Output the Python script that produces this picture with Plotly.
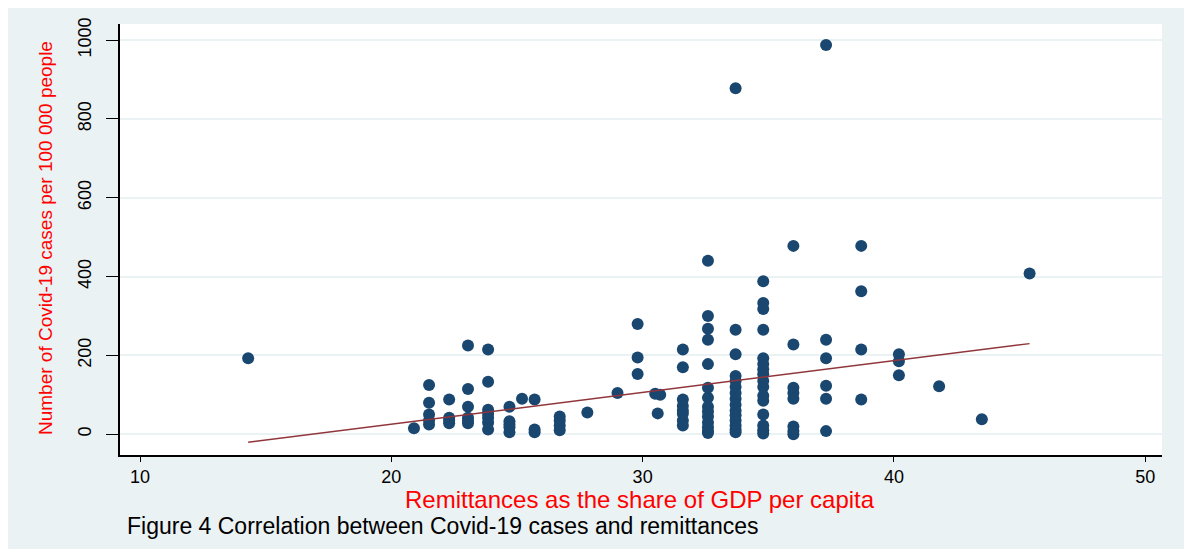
import plotly.graph_objects as go

# Remittances (% of GDP per capita) and Covid-19 cases per 100 000 people
remit = ([14.3] + [20.9] + [21.5]*5 + [22.3]*4 + [23.05]*6 + [23.85]*7 + [24.7]*5
         + [25.2] + [25.7]*3 + [26.7]*4 + [27.8] + [29.0] + [29.8]*3
         + [30.5, 30.7, 30.6] + [31.6]*8 + [32.6]*14 + [33.7]*15 + [34.8]*16
         + [36.0]*8 + [37.3]*6 + [38.7]*4 + [40.2]*3 + [41.8] + [43.5] + [45.4])
cases = ([193] + [15] + [125, 80, 50, 35, 25] + [88, 42, 35, 28]
         + [225, 115, 70, 42, 35, 28] + [215, 133, 62, 52, 42, 30, 12]
         + [70, 33, 25, 18, 5] + [90] + [88, 12, 5] + [45, 35, 22, 10]
         + [55] + [105] + [280, 195, 153] + [103, 100, 53]
         + [215, 170, 88, 72, 60, 52, 35, 22]
         + [440, 300, 268, 240, 178, 118, 93, 70, 58, 45, 30, 18, 8, 3]
         + [878, 265, 203, 148, 135, 120, 105, 90, 75, 60, 48, 35, 22, 12, 5]
         + [388, 333, 318, 265, 193, 178, 165, 152, 135, 120, 98, 85, 50, 22, 10, 2]
         + [478, 228, 118, 105, 90, 20, 8, 0] + [988, 240, 193, 123, 90, 8]
         + [478, 363, 215, 88] + [203, 185, 150] + [122] + [38] + [408])

# Linear fit line endpoints
fit_x = [14.3, 45.4]
fit_y = [-20, 230]

x_ticks = [10, 20, 30, 40, 50]
y_ticks = [0, 200, 400, 600, 800, 1000]

x_title = "Remittances as the share of GDP per capita"
y_title = "Number of Covid-19 cases per 100 000 people"
caption = "Figure 4 Correlation between Covid-19 cases and remittances"

FONT = "Liberation Sans, Arial, sans-serif"
BG = "#eaf2f3"

fig = go.Figure()
fig.add_trace(go.Scatter(x=remit, y=cases, mode="markers",
                         marker=dict(color="#1a476f", size=12, line=dict(width=0)),
                         showlegend=False))
fig.add_trace(go.Scatter(x=fit_x, y=fit_y, mode="lines",
                         line=dict(color="#90353b", width=1.5),
                         showlegend=False))

fig.update_layout(
    width=1192, height=549,
    margin=dict(l=112, r=38, t=10, b=102),
    paper_bgcolor=BG, plot_bgcolor="white",
    font=dict(family=FONT, color="black"),
    xaxis=dict(range=[9.2, 50.67], tickvals=x_ticks, showgrid=False, zeroline=False,
               showline=True, linecolor="black", linewidth=1.5,
               ticks="outside", ticklen=5, tickcolor="black",
               tickfont=dict(size=18, family=FONT)),
    yaxis=dict(range=[-52.6, 1041], tickvals=y_ticks, showgrid=True,
               gridcolor=BG, gridwidth=1.5, zeroline=False,
               showline=True, linecolor="black", linewidth=1.5,
               ticks="outside", ticklen=12, tickcolor="black", tickangle=-90,
               ticklabelstandoff=8,
               tickfont=dict(size=18, family=FONT)),
    annotations=[
        dict(text=x_title, xref="paper", yref="paper", x=(640 - 120) / 1042, y=-45 / 437,
             xanchor="center", yanchor="middle", showarrow=False,
             font=dict(size=24, color="#ff0000", family=FONT)),
        dict(text=y_title, xref="paper", yref="paper", x=-75 / 1042, y=(455 - 235) / 437,
             xanchor="center", yanchor="middle", showarrow=False, textangle=-90,
             font=dict(size=19, color="#ff0000", family=FONT)),
        dict(text=caption, xref="paper", yref="paper", x=5 / 1042, y=-72 / 437,
             xanchor="left", yanchor="middle", showarrow=False,
             font=dict(size=23, color="black", family=FONT)),
    ],
)

fig.write_html("out.html")
